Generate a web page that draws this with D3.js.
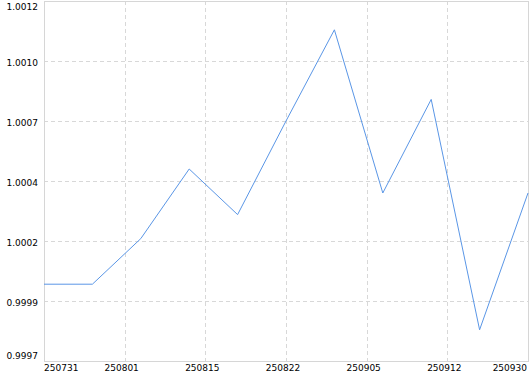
<!DOCTYPE html>
<html>
<head>
<meta charset="utf-8">
<script src="https://cdn.jsdelivr.net/npm/d3@7"></script>
<style>
  body { margin: 0; background: #fff; }
  text { font-family: "DejaVu Sans", sans-serif; font-size: 9px; fill: #000; }
</style>
</head>
<body>
<div id="viz_container"></div>
<script>
// chart values
const values = [1.00002, 1.00002, 1.00021, 1.00050, 1.00031, 1.00070, 1.00108, 1.00040, 1.00079, 0.99983, 1.00040];
const xTickLabels = ["250731", "250801", "250815", "250822", "250905", "250912", "250930"];
const yTickLabels = ["0.9997", "0.9999", "1.0002", "1.0004", "1.0007", "1.0010", "1.0012"];
const yMin = 0.9997, yMax = 1.0012;

// dimensions
const margin = {top: 1, right: 2, bottom: 13, left: 44};
const W = 530, H = 374;
const width = W - margin.left - margin.right;
const height = H - margin.top - margin.bottom;

const svg = d3.select("#viz_container")
  .append("svg")
    .attr("width", W)
    .attr("height", H)
  .append("g")
    .attr("transform", `translate(${margin.left},${margin.top})`);

// scales
const xScale = d3.scaleLinear()
  .domain([0, values.length - 1])
  .range([0, width]);
const yScale = d3.scaleLinear()
  .domain([yMin, yMax])
  .range([height, 0]);

const xTicks = xTickLabels.map((d, i) => i * (values.length - 1) / (xTickLabels.length - 1));
const yTicks = yTickLabels.map((d, i) => yMin + i * (yMax - yMin) / (yTickLabels.length - 1));

// grid lines
svg.append("g")
  .attr("class", "grid")
  .call(d3.axisBottom(xScale).tickValues(xTicks).tickSize(height).tickFormat(""))
  .call(g => g.select(".domain").remove())
  .selectAll("line")
    .attr("stroke", "#d8d8d8")
    .attr("stroke-dasharray", "4,3")
    .attr("shape-rendering", "crispEdges");

svg.append("g")
  .attr("class", "grid")
  .call(d3.axisLeft(yScale).tickValues(yTicks).tickSize(-width).tickFormat(""))
  .call(g => g.select(".domain").remove())
  .selectAll("line")
    .attr("stroke", "#d8d8d8")
    .attr("stroke-dasharray", "4,3")
    .attr("shape-rendering", "crispEdges");

// frame
svg.append("rect")
  .attr("x", 0.5)
  .attr("y", 0.5)
  .attr("width", width)
  .attr("height", height)
  .attr("fill", "none")
  .attr("stroke", "#d6d6d6")
  .attr("shape-rendering", "crispEdges");

// y labels
svg.append("g")
  .selectAll("text")
  .data(yTicks)
  .join("text")
    .attr("x", -6)
    .attr("y", d => Math.min(height - 5, Math.max(6, yScale(d) + 2)))
    .attr("dy", "0.35em")
    .attr("text-anchor", "end")
  .text((d, i) => yTickLabels[i]);

// x labels
svg.append("g")
  .selectAll("text")
  .data(xTicks)
  .join("text")
    .attr("x", (d, i) => i === 0 ? xScale(d) : i === xTicks.length - 1 ? xScale(d) - 1 : xScale(d) - 3)
    .attr("y", height + 7)
    .attr("dy", "0.35em")
    .attr("text-anchor", (d, i) => i === 0 ? "start" : i === xTicks.length - 1 ? "end" : "middle")
  .text((d, i) => xTickLabels[i]);

// line
svg.append("path")
  .datum(values)
  .attr("fill", "none")
  .attr("stroke", "#5a96e6")
  .attr("stroke-width", 1)
  .attr("d", d3.line()
    .x((d, i) => xScale(i))
    .y(d => yScale(d)));
</script>
</body>
</html>
